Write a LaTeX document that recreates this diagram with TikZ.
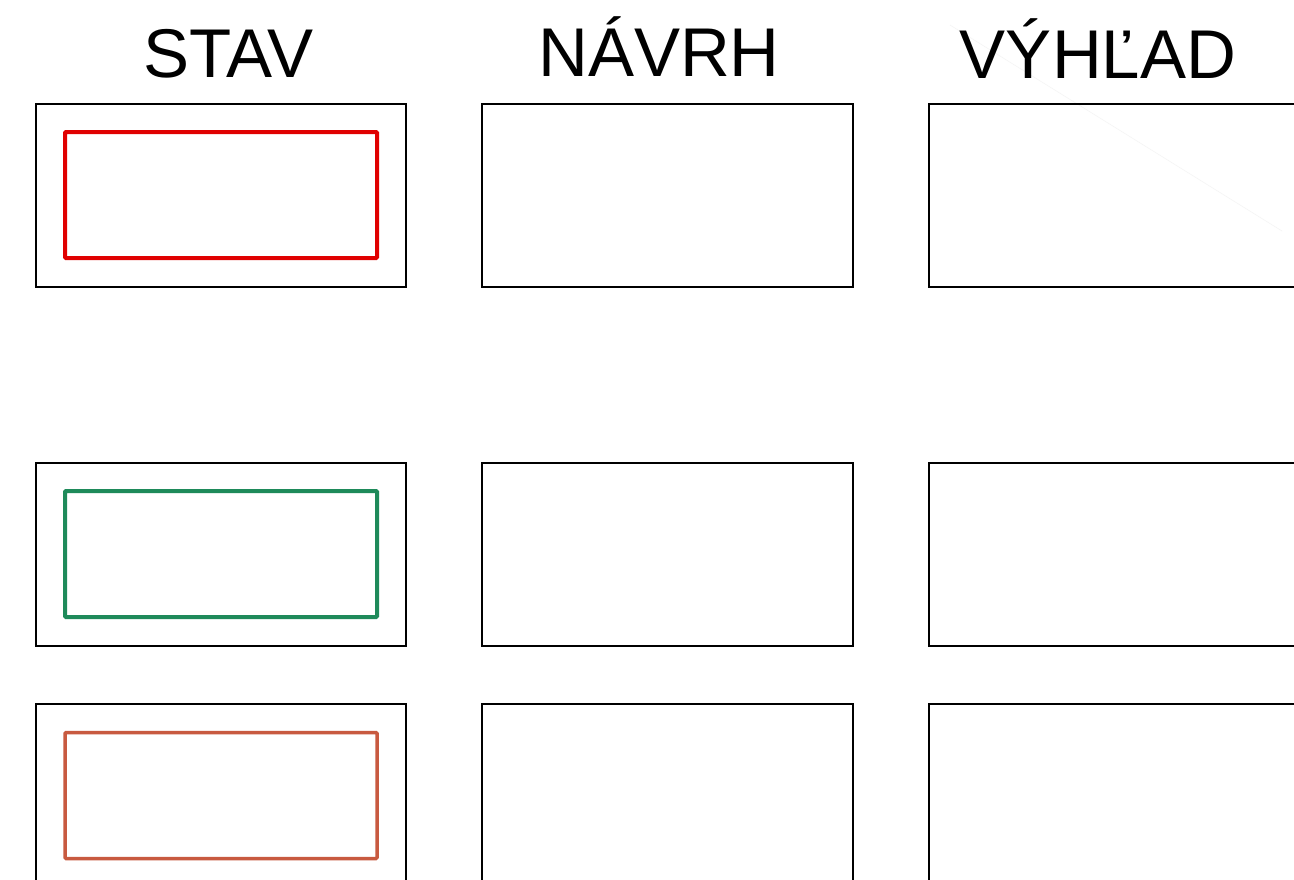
\documentclass[tikz,border=0pt]{standalone}
\usepackage{fontspec}
\setmainfont{Liberation Sans}
\definecolor{stavred}{HTML}{E00000}
\definecolor{stavgreen}{HTML}{1E8A5A}
\definecolor{stavorange}{HTML}{C85A40}
\begin{document}
\begin{tikzpicture}[x=1pt,y=-1pt,
  frame/.style={draw=black,line width=1.5pt,rectangle,inner sep=0pt,outer sep=0pt,minimum width=370pt,minimum height=183pt},
  wideframe/.style={frame,minimum width=371pt},
  inner/.style={draw,line width=4pt,rectangle,inner sep=0pt,outer sep=0pt,rounded corners=1pt,minimum width=312pt,minimum height=126pt},
  title/.style={anchor=base,font=\fontsize{69}{80}\selectfont,inner sep=0pt}]
\useasboundingbox (0,0) rectangle (1294,879);
\fill[white] (0,0) rectangle (1294,879);
% faint line (under the titles)
\coordinate (fa) at (950,25);
\coordinate (fb) at (1282,231);
\draw[black!4,line width=0.6pt] (fa) -- (fb);
% titles
\node[title] (t1) at (228,77) {STAV};
\node[title] (t2) at (659,76) {NÁVRH};
\node[title] (t3) at (1098,78) {VÝHĽAD};
% frames row 1
\node[frame] (f11) at (221,195.5) {};
\node[wideframe] (f12) at (667.5,195.5) {};
\node[wideframe] (f13) at (1114.5,195.5) {};
% row 2
\node[frame] (f21) at (221,554.5) {};
\node[wideframe] (f22) at (667.5,554.5) {};
\node[wideframe] (f23) at (1114.5,554.5) {};
% row 3
\node[frame] (f31) at (221,795.5) {};
\node[wideframe] (f32) at (667.5,795.5) {};
\node[wideframe] (f33) at (1114.5,795.5) {};
% inner coloured rectangles
\node[inner,draw=stavred] (r1) at (221,195) {};
\node[inner,draw=stavgreen] (r2) at (221,554) {};
\node[inner,draw=stavorange,line width=3.5pt] (r3) at (221,795.5) {};
\end{tikzpicture}
\end{document}
